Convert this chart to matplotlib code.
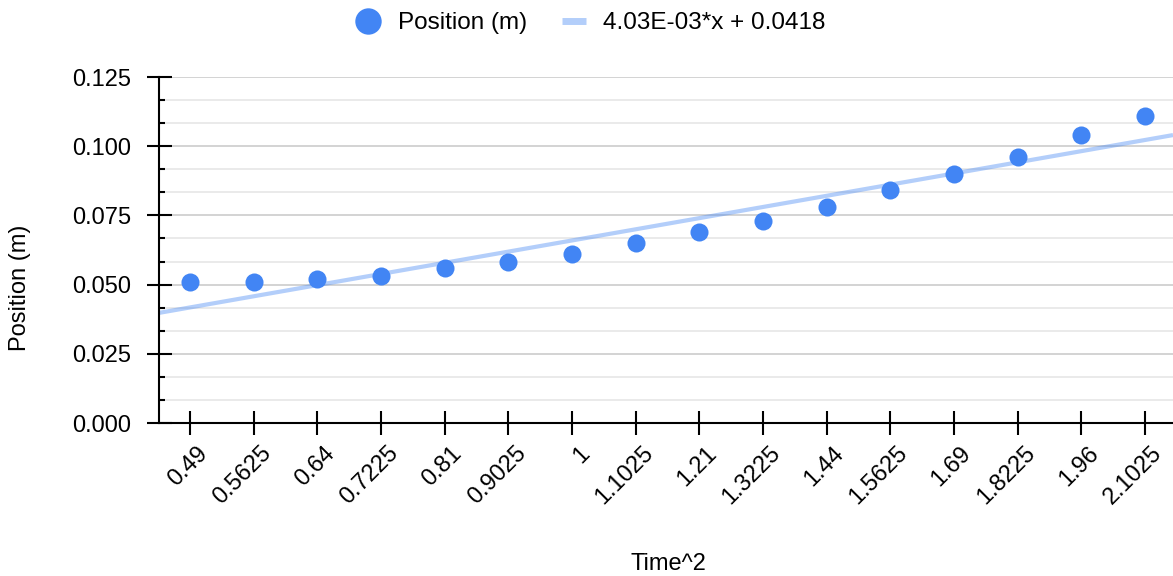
import numpy as np
import matplotlib
matplotlib.use("Agg")
import matplotlib.pyplot as plt
import matplotlib.transforms as mtransforms
from matplotlib.lines import Line2D
from matplotlib.ticker import MultipleLocator, FixedLocator

plt.rcParams['font.family'] = ['Liberation Sans', 'DejaVu Sans']

# 数据：横轴是时间平方（按类别排列），纵轴是位置
time_sq = ['0.49', '0.5625', '0.64', '0.7225', '0.81', '0.9025', '1', '1.1025',
           '1.21', '1.3225', '1.44', '1.5625', '1.69', '1.8225', '1.96', '2.1025']
position = [0.051, 0.051, 0.052, 0.053, 0.056, 0.058, 0.061, 0.065,
            0.069, 0.073, 0.078, 0.084, 0.090, 0.096, 0.104, 0.111]

blue = '#4285F4'
fs = 17

# 线性拟合（按类别序号 0..15）
idx = np.arange(len(time_sq))
coeff = np.polyfit(idx, position, 1)
f = np.poly1d(coeff)
trend_label = '%.2E*x + %.4f' % (coeff[0], coeff[1])

fig = plt.figure(figsize=(11.73, 5.76), dpi=100)
ax = fig.add_axes([159 / 1173, 1 - 423 / 576, 1 - 159 / 1173, (423 - 77) / 576])

xlim = (-0.49, 15.44)
xx = np.array(xlim)
ax.plot(xx, f(xx), color=blue, alpha=0.4, lw=3, solid_capstyle='butt', zorder=2)
ax.plot(idx, position, 'o', color=blue, ms=13, mec='none', zorder=3)

ax.set_xlim(*xlim)
ax.set_ylim(0, 0.125)

# 网格：主刻度 0.025，每格再分三份
ax.yaxis.set_major_locator(MultipleLocator(0.025))
minor = [v for v in np.arange(0, 0.1251, 0.025 / 3) if abs(v / 0.025 - round(v / 0.025)) > 0.01]
ax.yaxis.set_minor_locator(FixedLocator(minor))
ax.grid(axis='y', which='major', color='#cccccc', lw=1.2, zorder=0)
ax.grid(axis='y', which='minor', color='#e6e6e6', lw=1.2, zorder=0)
ax.set_axisbelow(True)

ax.set_yticks([0, 0.025, 0.05, 0.075, 0.1, 0.125])
ax.set_yticklabels(['0.000', '0.025', '0.050', '0.075', '0.100', '0.125'])
ax.tick_params(axis='y', which='major', direction='inout', length=18, width=1.5,
               labelsize=fs, pad=11)
ax.tick_params(axis='y', which='minor', direction='in', length=4.5, width=1.5)

ax.set_xticks(idx)
ax.set_xticklabels(time_sq, rotation=45, ha='right', va='center', rotation_mode='anchor')
ax.tick_params(axis='x', direction='inout', length=17, width=1.5, labelsize=fs, pad=11)
offset = mtransforms.ScaledTranslation(14 / 100, 0, fig.dpi_scale_trans)
for lab in ax.get_xticklabels():
    lab.set_transform(lab.get_transform() + offset)

for s in ['top', 'right']:
    ax.spines[s].set_visible(False)
ax.spines['left'].set_linewidth(1.5)
ax.spines['bottom'].set_linewidth(1.5)

fig.text(20 / 1173, 1 - 288 / 576, 'Position (m)', rotation=90, ha='center', va='center', fontsize=fs)
fig.text(668 / 1173, 1 - 564 / 576, 'Time^2', ha='center', va='center', fontsize=fs)

handles = [Line2D([], [], ls='none', marker='o', color=blue, ms=19, mec='none'),
           Line2D([], [], color=blue, alpha=0.4, lw=5, solid_capstyle='butt')]
fig.legend(handles, ['Position (m)', trend_label], loc='center',
           bbox_to_anchor=(591 / 1173, 1 - 23 / 576), ncol=2, frameon=False,
           fontsize=17.5, handlelength=1.0, handletextpad=0.7, columnspacing=1.45)

fig.savefig('out.png', dpi=100)
